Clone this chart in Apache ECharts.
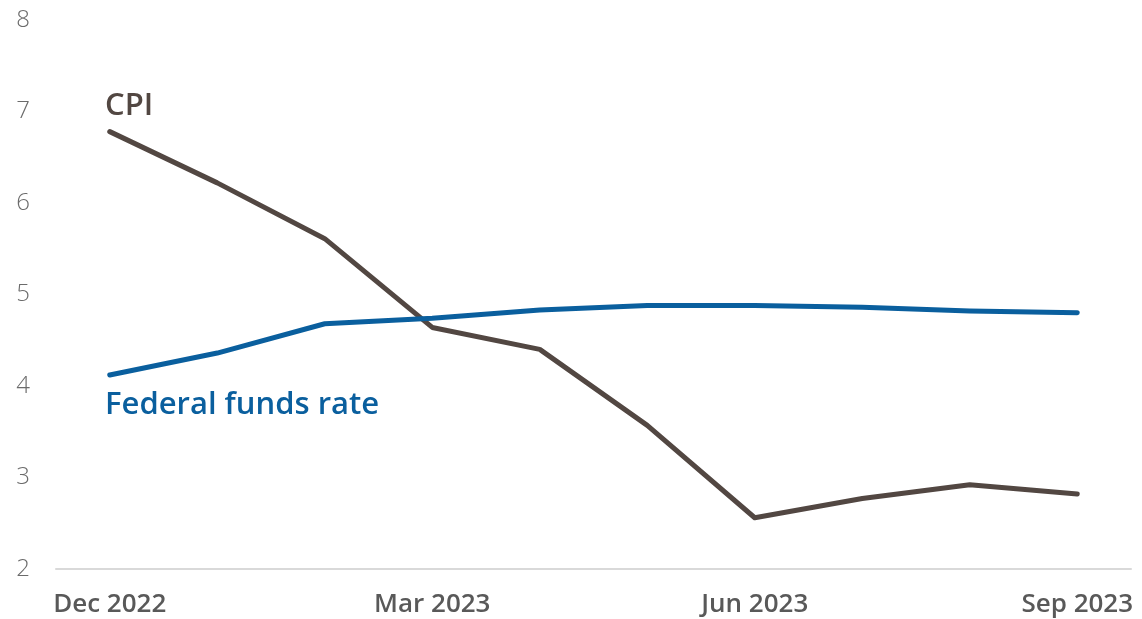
<!DOCTYPE html>
<html><head><meta charset="utf-8">
<script src="https://cdn.jsdelivr.net/npm/echarts@6/dist/echarts.min.js"></script>
<style>html,body{margin:0;padding:0;background:#fff}#c{width:1142px;height:619px}</style>
</head><body><div id="c"></div>
<script>
const categories = ['Dec 2022','Jan 2023','Feb 2023','Mar 2023','Apr 2023','May 2023','Jun 2023','Jul 2023','Aug 2023','Sep 2023'];
const cpi = [6.78, 6.22, 5.61, 4.64, 4.40, 3.57, 2.56, 2.77, 2.92, 2.82];
const fedFunds = [4.12, 4.36, 4.68, 4.74, 4.83, 4.88, 4.88, 4.86, 4.82, 4.80];
const yTicks = [2, 3, 4, 5, 6, 7, 8];

const chart = echarts.init(document.getElementById('c'));
chart.setOption({
  animation: false,
  grid: {left: 56, right: 11, top: 20, bottom: 50, containLabel: false},
  xAxis: {
    type: 'category', data: categories, boundaryGap: true,
    axisLine: {show: true, lineStyle: {color: '#d9d9d9', width: 2}},
    axisTick: {show: false},
    axisLabel: {
      interval: 2, color: '#595959', fontSize: 26, fontWeight: 600,
      fontFamily: 'Open Sans', margin: 23
    }
  },
  yAxis: {
    type: 'value', min: yTicks[0], max: yTicks[yTicks.length-1], interval: 1,
    splitLine: {show: false}, axisLine: {show: false}, axisTick: {show: false},
    axisLabel: {color: '#6b6b6b', fontSize: 24, fontFamily: 'Open Sans', fontWeight: 300, margin: 26}
  },
  graphic: [
    {type: 'text', left: 105, top: 91, style: {text: 'CPI', fill: '#524742', fontSize: 31, fontWeight: 600, fontFamily: 'Open Sans'}},
    {type: 'text', left: 105, top: 390, style: {text: 'Federal funds rate', fill: '#0a5f9e', fontSize: 31, fontWeight: 600, fontFamily: 'Open Sans'}}
  ],
  series: [
    {name: 'CPI', type: 'line', data: cpi, symbol: 'none',
     lineStyle: {color: '#524742', width: 5, cap: 'round', join: 'round'}},
    {name: 'Federal funds rate', type: 'line', data: fedFunds, symbol: 'none',
     lineStyle: {color: '#0a5f9e', width: 5, cap: 'round', join: 'round'}}
  ]
});
</script></body></html>
